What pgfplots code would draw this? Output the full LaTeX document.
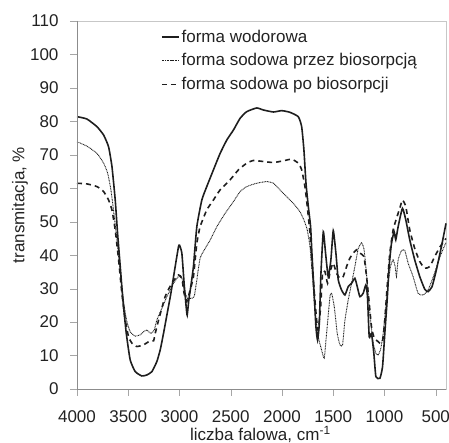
\documentclass[border=0pt]{standalone}
\usepackage{fontspec}
\setmainfont{Liberation Sans}
\usepackage{pgfplots}
\pgfplotsset{compat=1.18}
\definecolor{txt}{HTML}{222222}
\definecolor{ink}{HTML}{1E1E1E}
\newcommand\f{\fontsize{17}{20.4}\selectfont}

\begin{document}
\begin{tikzpicture}
\begin{axis}[
    scale only axis,
    width=369pt, height=368pt,
    x dir=reverse,
    xmin=400, xmax=4000, ymin=0, ymax=110,
    xtick={500,1000,...,4000},
    ytick={0,10,...,110},
    /pgf/number format/assume math mode=true,
    /pgf/number format/1000 sep={},
    tick label style={font=\f, text=txt},
    xticklabel style={yshift=-11pt},
    yticklabel style={xshift=-8pt},
    label style={font=\f, text=txt},
    axis line style={draw=black!22},
    tick style={draw=black!35},
    tick align=outside,
    major tick length=7pt,
    xtick pos=bottom, ytick pos=left,
    xlabel={liczba falowa, cm\textsuperscript{-1}},
    ylabel={transmitacja, \%},
    xlabel style={at={(axis description cs:0.497,0)}, anchor=base, yshift=-51.5pt},
    ylabel style={at={(axis description cs:-0.1545,0.5)}, anchor=center},
    legend style={draw=none, fill=none, font=\f, text=txt,
        at={(axis description cs:0.227,0.982)}, anchor=north west,
        row sep=6pt, inner sep=0pt},
    legend cell align=left,
    clip=false
]
% forma wodorowa
\addplot[ink, line width=1.6pt, smooth, tension=0.3] coordinates {
(4000,81.4) (3903,80.7) (3805,78.4) (3740,75.9) (3692,72.4) (3659,66.5)
(3627,56.5) (3604,46.5) (3578,36.6) (3552,26.6) (3519,16.6) (3481,8.7)
(3432,5.2) (3367,3.9) (3318,4.2) (3269,5.2) (3221,8.2) (3188,11.7)
(3156,16.6) (3123,22.1) (3084,28.6) (3042,36.6) (3010,42.5) (3000,43.0)
(2977,40.6) (2955,31.6) (2935,24.6) (2925,22.1) (2909,26.6) (2890,30.6)
(2864,36.6) (2831,48.5) (2782,56.5) (2734,60.5) (2669,65.5) (2604,70.4)
(2539,74.4) (2474,77.4) (2409,80.9) (2344,82.9) (2247,84.0) (2182,83.4)
(2084,82.8) (2003,83.2) (1922,82.7) (1841,81.4) (1808,78.4) (1786,71.4)
(1766,61.5) (1743,54.5) (1721,48.5) (1708,40.6) (1688,29.6) (1669,18.6)
(1653,14.6) (1636,19.6) (1620,34.6) (1597,47.0) (1575,40.6) (1549,33.6)
(1523,38.6) (1500,47.3) (1474,40.6) (1451,32.6) (1419,29.6) (1386,28.1)
(1354,30.6) (1321,31.6) (1289,33.1) (1266,30.6) (1240,27.6) (1208,28.6)
(1182,31.1) (1166,27.6) (1149,15.6) (1127,16.6) (1104,10.7) (1084,3.7)
(1045,3.2) (1019,6.7) (997,16.6) (974,26.6) (955,36.6) (932,43.5)
(906,47.0) (890,44.6) (867,48.5) (825,54.0) (792,50.5) (753,44.5)
(705,38.6) (656,33.6) (607,29.8) (575,29.1) (536,30.6) (494,35.6)
(445,42.5) (400,49.5)
};
\addlegendentry{forma wodorowa}
% forma sodowa przez biosorpcja
\addplot[ink, line width=0.9pt, dash pattern=on 0.9pt off 0.7pt, smooth, tension=0.3] coordinates {
(4000,73.9) (3903,72.6) (3805,70.4) (3740,67.5) (3701,64.5) (3669,59.5)
(3636,51.5) (3610,44.5) (3584,36.6) (3562,30.6) (3539,24.6) (3513,20.1)
(3481,17.1) (3432,15.8) (3383,16.2) (3351,17.1) (3318,17.6) (3279,16.6)
(3247,17.6) (3221,20.6) (3172,24.1) (3123,27.6) (3058,31.6) (3010,33.6)
(2977,33.1) (2955,29.6) (2922,27.1) (2890,27.1) (2857,27.6) (2831,32.6)
(2799,39.1) (2750,42.0) (2701,44.5) (2636,48.5) (2555,52.5) (2474,56.0)
(2409,59.0) (2344,60.5) (2247,61.5) (2149,62.0) (2084,61.5) (2019,59.5)
(1955,57.5) (1890,55.5) (1825,53.0) (1786,50.5) (1753,47.5) (1727,42.5)
(1705,34.6) (1679,23.6) (1646,15.6) (1614,11.7) (1588,9.2) (1565,16.6)
(1532,27.6) (1516,28.6) (1490,24.6) (1461,16.6) (1435,13.2) (1409,13.2)
(1386,20.6) (1354,26.6) (1321,31.6) (1289,36.6) (1256,42.0) (1224,43.7)
(1201,42.0) (1182,36.6) (1159,28.6) (1136,20.6) (1110,13.7) (1084,10.7)
(1062,10.2) (1039,11.7) (1013,16.6) (987,24.6) (964,31.6) (942,36.6)
(916,38.6) (896,36.6) (883,33.6) (867,38.6) (834,41.4) (802,41.4)
(769,37.6) (721,33.6) (672,28.6) (623,28.1) (575,29.6) (523,33.6)
(458,39.6) (400,43.8)
};
\addlegendentry{forma sodowa przez biosorpcją}
% forma sodowa po biosorpcji
\addplot[ink, line width=1.6pt, dash pattern=on 5pt off 4pt, smooth, tension=0.3] coordinates {
(4000,61.5) (3903,61.3) (3805,60.5) (3740,59.0) (3692,56.5) (3659,53.5)
(3627,47.5) (3594,38.6) (3562,28.6) (3529,20.6) (3497,15.6) (3464,13.7)
(3416,12.7) (3351,13.2) (3286,14.4) (3253,14.4) (3237,16.6) (3204,20.6)
(3140,27.6) (3075,31.6) (3010,34.1) (2977,33.1) (2955,28.6) (2929,26.1)
(2896,29.6) (2864,33.6) (2831,43.5) (2799,48.5) (2734,53.5) (2669,56.5)
(2604,59.5) (2507,62.5) (2425,65.5) (2344,67.5) (2279,68.3) (2182,68.0)
(2084,67.7) (1987,68.2) (1906,68.7) (1841,67.5) (1808,65.5) (1776,60.5)
(1753,54.5) (1727,46.5) (1705,36.6) (1679,26.6) (1662,20.6) (1646,17.6)
(1623,24.6) (1604,34.6) (1581,35.1) (1555,31.6) (1526,35.6) (1500,37.6)
(1468,34.6) (1435,33.1) (1403,33.6) (1370,36.6) (1338,39.1) (1305,40.6)
(1273,41.6) (1240,40.6) (1201,39.6) (1175,33.6) (1149,25.6) (1127,18.6)
(1104,15.6) (1078,14.6) (1045,13.7) (1019,14.1) (997,20.6) (974,30.6)
(948,40.6) (916,47.5) (883,51.0) (851,54.0) (825,56.5) (792,54.5)
(753,47.5) (705,42.0) (656,38.1) (607,36.1) (558,36.6) (510,39.6)
(458,42.5) (400,45.0)
};
\addlegendentry{forma sodowa po biosorpcji}
\draw[black!45] (rel axis cs:0,1) -- (rel axis cs:0,0) -- (rel axis cs:1,0);
\end{axis}
\pgfresetboundingbox
\path[use as bounding box] (-77pt,-54pt) rectangle (372pt,389pt);
\end{tikzpicture}
\end{document}
